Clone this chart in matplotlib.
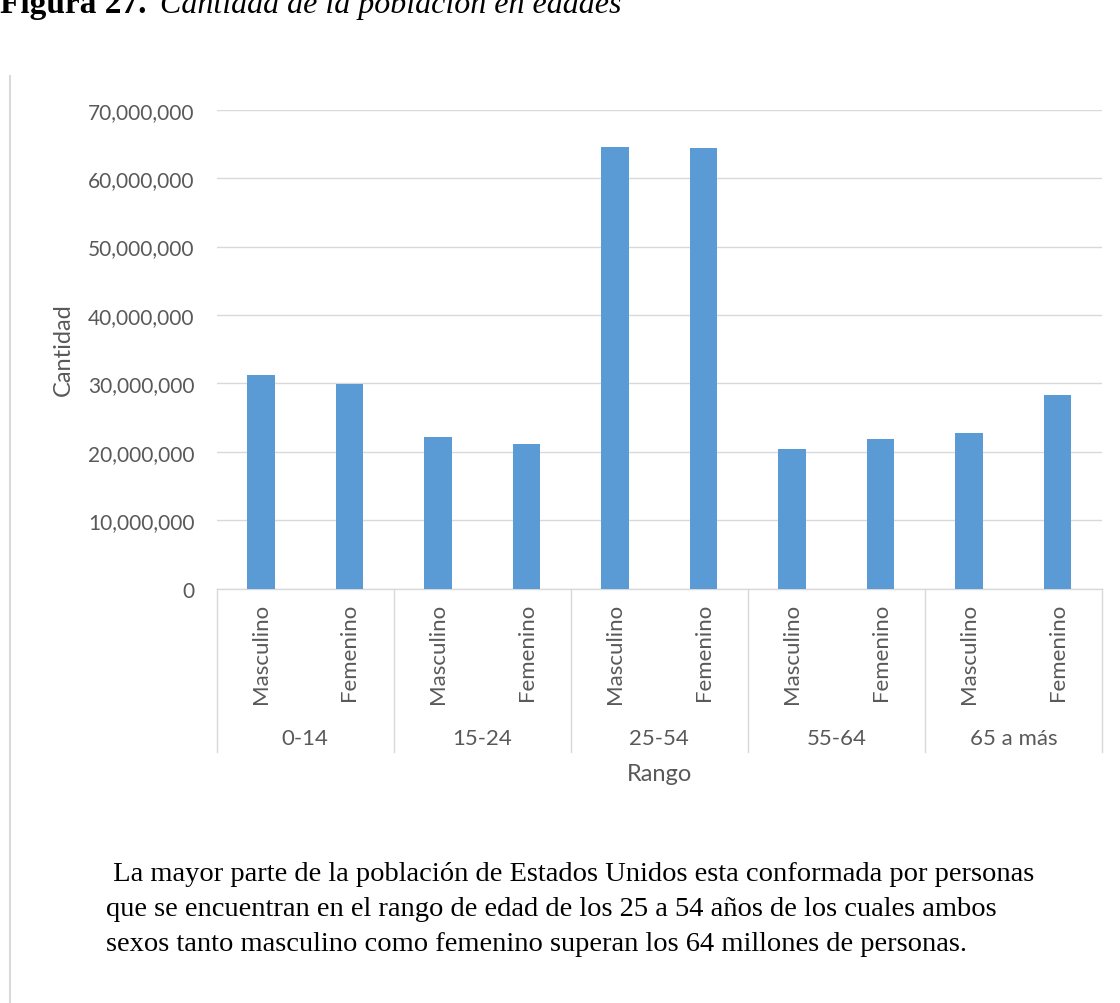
import matplotlib.pyplot as plt
from matplotlib.lines import Line2D
from matplotlib.ticker import FuncFormatter
import numpy as np

# poblacion por rango de edad y sexo
rangos = ['0-14', '15-24', '25-54', '55-64', '65 a más']
sexos = ['Masculino', 'Femenino']
masculino = [31240000, 22180000, 64520000, 20340000, 22680000]
femenino = [29880000, 21120000, 64330000, 21800000, 28320000]

valores = []
etiquetas = []
for m, f in zip(masculino, femenino):
    valores += [m, f]
    etiquetas += sexos

W, H = 1120, 1004
gris = '#595959'
linea = '#D9D9D9'
azul = '#5B9BD5'

plt.rcParams['font.family'] = ['Lato', 'DejaVu Sans']

fig = plt.figure(figsize=(W / 100, H / 100), dpi=100)

# ejes en coordenadas de pixel
x0, x1 = 216.7, 1102
y0, y1 = 589.5, 110.7
ax = fig.add_axes([x0 / W, 1 - y0 / H, (x1 - x0) / W, (y0 - y1) / H])

x = np.arange(len(valores))
ax.bar(x, valores, width=0.31, color=azul, zorder=3)

ax.set_xlim(-0.5, len(valores) - 0.5)
ax.set_ylim(0, 70000000)
ax.set_yticks(np.arange(0, 70000001, 10000000))
ax.yaxis.set_major_formatter(FuncFormatter(lambda v, p: f'{int(v):,}'))
ax.grid(axis='y', color=linea, linewidth=1.0, zorder=0)

for s in ['top', 'right', 'left']:
    ax.spines[s].set_visible(False)
ax.spines['bottom'].set_color(linea)
ax.spines['bottom'].set_linewidth(1.0)

ax.tick_params(axis='y', length=0, pad=16, labelsize=15, labelcolor=gris)
ax.set_xticks(x)
ax.set_xticklabels(etiquetas, rotation=90, va='top', ha='center')
ax.tick_params(axis='x', length=0, pad=10, labelsize=16, labelcolor=gris)

# separadores y nombres de los grupos
alto = y0 - y1
for i in range(len(rangos) + 1):
    ax.plot([i * 2 - 0.5, i * 2 - 0.5], [0, -(753 - y0) / alto],
            transform=ax.get_xaxis_transform(), color=linea, lw=1.0,
            clip_on=False)
for i, r in enumerate(rangos):
    ax.text(i * 2 + 0.5, -(739 - y0) / alto, r, transform=ax.get_xaxis_transform(),
            ha='center', va='center', fontsize=16, color=gris)

fig.text((x0 + x1) / 2 / W, 1 - 775 / H, 'Rango', ha='center', va='center',
         fontsize=17, color=gris)
fig.text(63 / W, 1 - 350 / H, 'Cantidad', rotation=90, ha='center', va='center',
         fontsize=17, color=gris)

# borde izquierdo del recuadro
fig.add_artist(Line2D([10 / W, 10 / W], [0, 1 - 77 / H], color=linea, lw=1.5))

# titulo de la figura
fig.text(0, 1 - 12.7 / H, 'Figura 27.', family='Liberation Serif', weight='bold',
         fontsize=24, va='baseline', ha='left')
fig.text(160 / W, 1 - 12.7 / H, 'Cantidad de la población en edades',
         family='Liberation Serif', style='italic', fontsize=23, va='baseline',
         ha='left')

# texto descriptivo
parrafo = [
    ' La mayor parte de la población de Estados Unidos esta conformada por personas',
    'que se encuentran en el rango de edad de los 25 a 54 años de los cuales ambos',
    'sexos tanto masculino como femenino superan los 64 millones de personas.',
]
for i, t in enumerate(parrafo):
    fig.text(106 / W, 1 - (880.7 + 35 * i) / H, t, family='Liberation Serif',
             fontsize=20.5, va='baseline', ha='left', color='black')

plt.savefig('out.png', dpi=100)
